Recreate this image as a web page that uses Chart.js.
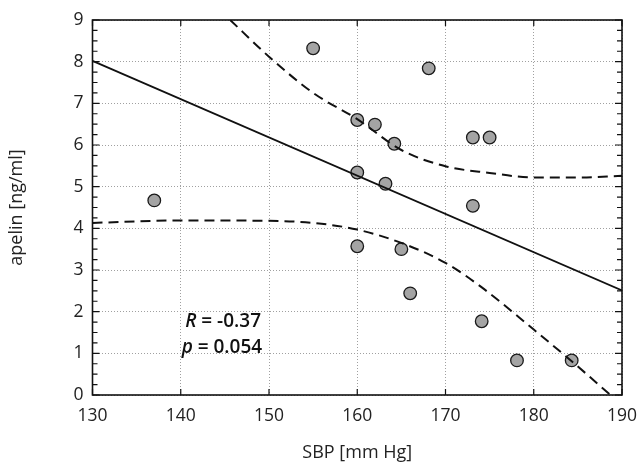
<!DOCTYPE html>
<html>
<head>
<meta charset="utf-8">
<script src="https://cdn.jsdelivr.net/npm/chart.js@4/dist/chart.umd.min.js"></script>
<style>
  html, body { margin: 0; padding: 0; background: #fff; }
  #wrap { width: 638px; height: 465px; }
</style>
</head>
<body>
<div id="wrap"><canvas id="grafico" width="638" height="465"></canvas></div>
<script>
// Dados (SBP x apelina)
const sbp = [137, 155, 160, 162, 164.2, 168.1, 173.1, 175, 160, 163.2, 173.1, 160, 165, 166, 174.1, 178.1, 184.3];
const apelina = [4.67, 8.32, 6.6, 6.49, 6.03, 7.84, 6.18, 6.18, 5.34, 5.07, 4.54, 3.57, 3.5, 2.44, 1.77, 0.83, 0.83];

// Reta de regressão
const retaX = [130, 190];
const retaY = [8.02, 2.51];

// Faixas de confiança (tracejadas)
const superiorX = [145.6, 150, 155, 160, 165, 170, 175, 180, 185, 190];
const superiorY = [9.0, 8.12, 7.25, 6.62, 5.88, 5.49, 5.33, 5.22, 5.22, 5.26];
const inferiorX = [130, 140, 150, 155, 160, 165, 170, 174, 180, 184.3, 188.7];
const inferiorY = [4.13, 4.19, 4.18, 4.13, 3.97, 3.65, 3.17, 2.6, 1.57, 0.81, 0.0];

// Eixos
const xTicks = [130, 140, 150, 160, 170, 180, 190];
const yTicks = [0, 1, 2, 3, 4, 5, 6, 7, 8, 9];
const textoR = ['R', ' = -0.37'];
const textoP = ['p', ' = 0.054'];

const FONTE = '"Open Sans", "Noto Sans", sans-serif';

const juntar = (xs, ys) => xs.map((x, i) => ({ x: x, y: ys[i] }));

// Moldura sólida + marcas de escala para dentro
const molduraPlugin = {
    id: 'moldura',
    afterDraw(chart) {
        const { ctx, chartArea: a, scales } = chart;
        const sx = scales.x, sy = scales.y;
        ctx.save();
        ctx.strokeStyle = '#111';
        ctx.lineWidth = 1.6;
        ctx.setLineDash([]);
        ctx.strokeRect(a.left, a.top, a.right - a.left, a.bottom - a.top);
        ctx.lineWidth = 1.2;
        ctx.beginPath();
        // marcas principais no eixo x (em cima e embaixo)
        xTicks.forEach(v => {
            const px = sx.getPixelForValue(v);
            ctx.moveTo(px, a.bottom); ctx.lineTo(px, a.bottom - 6);
            ctx.moveTo(px, a.top); ctx.lineTo(px, a.top + 6);
        });
        // marcas no eixo y (0.25 em 0.25)
        for (let k = 0; k <= 36; k++) {
            const v = k / 4;
            const py = sy.getPixelForValue(v);
            const len = (k % 4 === 0) ? 7 : 5;
            ctx.moveTo(a.left, py); ctx.lineTo(a.left + len, py);
            ctx.moveTo(a.right, py); ctx.lineTo(a.right - len, py);
        }
        ctx.stroke();
        ctx.restore();
    }
};

// Texto com R e p
const textoPlugin = {
    id: 'textoEstatistica',
    afterDatasetsDraw(chart) {
        const { ctx, scales } = chart;
        const desenhar = (partes, xv, yv) => {
            let px = scales.x.getPixelForValue(xv);
            const py = scales.y.getPixelForValue(yv);
            ctx.textBaseline = 'middle';
            ctx.textAlign = 'left';
            ctx.fillStyle = '#111';
            ctx.font = 'italic 600 19px ' + FONTE;
            ctx.fillText(partes[0], px, py);
            px += ctx.measureText(partes[0]).width;
            ctx.font = '600 19px ' + FONTE;
            ctx.fillText(partes[1], px, py);
        };
        ctx.save();
        desenhar(textoR, 140.5, 1.77);
        desenhar(textoP, 140.1, 1.14);
        ctx.restore();
    }
};

const ctx = document.getElementById('grafico').getContext('2d');
const grafico = new Chart(ctx, {
    type: 'scatter',
    data: {
        datasets: [
            {
                label: 'superior',
                type: 'line',
                data: juntar(superiorX, superiorY),
                borderColor: '#111',
                borderWidth: 2,
                borderDash: [10, 6],
                pointRadius: 0,
                fill: false,
                cubicInterpolationMode: 'monotone'
            },
            {
                label: 'inferior',
                type: 'line',
                data: juntar(inferiorX, inferiorY),
                borderColor: '#111',
                borderWidth: 2,
                borderDash: [10, 6],
                pointRadius: 0,
                fill: false,
                cubicInterpolationMode: 'monotone'
            },
            {
                label: 'regressão',
                type: 'line',
                data: juntar(retaX, retaY),
                borderColor: '#111',
                borderWidth: 1.8,
                pointRadius: 0,
                fill: false
            },
            {
                label: 'pacientes',
                data: juntar(sbp, apelina),
                backgroundColor: '#a4a4a4',
                borderColor: '#1a1a1a',
                borderWidth: 1.3,
                pointRadius: 6.3
            }
        ]
    },
    options: {
        responsive: false,
        animation: false,
        devicePixelRatio: 1,
        layout: { padding: { top: 20, right: 16, bottom: 1, left: 0 } },
        plugins: {
            legend: { display: false },
            tooltip: { enabled: false }
        },
        scales: {
            x: {
                type: 'linear',
                min: 130,
                max: 190,
                afterFit: (s) => { s.height = 69; s.paddingLeft = 0; s.paddingRight = 0; },
                afterBuildTicks: (s) => { s.ticks = xTicks.map(v => ({ value: v })); },
                grid: { color: '#a0a0a0', lineWidth: 1, drawTicks: false },
                border: { display: false, dash: [1, 2] },
                ticks: {
                    padding: 11,
                    color: '#222',
                    font: { family: FONTE, size: 17.5 }
                },
                title: {
                    display: true,
                    text: 'SBP [mm Hg]',
                    color: '#222',
                    padding: { top: 0, bottom: 0 },
                    font: { family: FONTE, size: 18 }
                }
            },
            y: {
                type: 'linear',
                min: 0,
                max: 9,
                afterFit: (s) => { s.width = 92.5; s.paddingTop = 0; s.paddingBottom = 0; },
                afterBuildTicks: (s) => { s.ticks = yTicks.map(v => ({ value: v })); },
                grid: { color: '#a0a0a0', lineWidth: 1, drawTicks: false },
                border: { display: false, dash: [1, 2] },
                ticks: {
                    padding: 9,
                    color: '#222',
                    font: { family: FONTE, size: 17.5 }
                },
                title: {
                    display: true,
                    text: 'apelin [ng/ml]',
                    color: '#222',
                    padding: { top: 6, bottom: 0 },
                    font: { family: FONTE, size: 18 }
                }
            }
        }
    },
    plugins: [molduraPlugin, textoPlugin]
});
</script>
</body>
</html>
